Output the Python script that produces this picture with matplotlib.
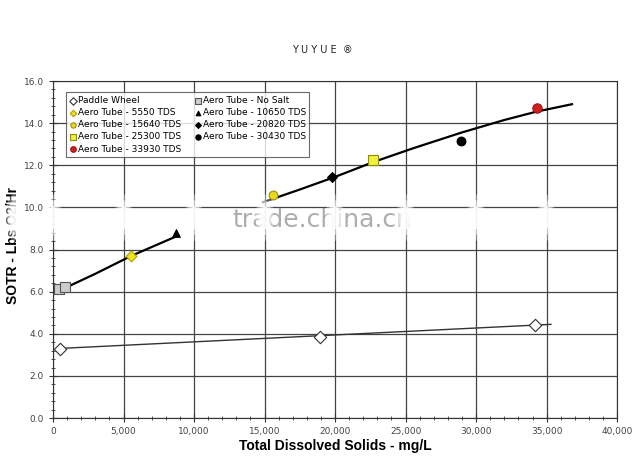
import numpy as np
import matplotlib.pyplot as plt
from matplotlib.ticker import MultipleLocator, FuncFormatter
from matplotlib.patches import Ellipse

paddle_x = [500, 18900, 34200]
paddle_y = [3.28, 3.87, 4.40]
nosalt_x = [450, 850]
nosalt_y = [6.15, 6.2]

aero_labels = ["Aero Tube - 5550 TDS", "Aero Tube - 10650 TDS", "Aero Tube - 15640 TDS",
               "Aero Tube - 20820 TDS", "Aero Tube - 25300 TDS", "Aero Tube - 30430 TDS",
               "Aero Tube - 33930 TDS"]
aero_x = [5530, 8700, 15600, 19800, 22700, 28950, 34300]
aero_y = [7.7, 8.8, 10.6, 11.45, 12.25, 13.15, 14.7]

# linhas de tendencia
paddle_fit_x = [300, 35300]
paddle_fit_y = [3.3, 4.45]
fit1_x = [450, 3000, 5550, 8650]
fit1_y = [6.05, 6.85, 7.7, 8.6]
fit2_x = [14900, 17500, 20000, 22700, 25500, 28950, 32000, 34300, 36800]
fit2_y = [10.25, 10.85, 11.45, 12.15, 12.8, 13.55, 14.15, 14.55, 14.9]

fig = plt.figure(figsize=(6.44, 4.63), dpi=100)
ax = fig.add_axes([0.0823, 0.097, 0.876, 0.728])

ax.plot(paddle_fit_x, paddle_fit_y, color="#333333", lw=1, zorder=2)
ax.plot(fit1_x, fit1_y, color="black", lw=1.6, zorder=2)
ax.plot(fit2_x, fit2_y, color="black", lw=1.6, zorder=2)

h = []
h.append(ax.scatter(paddle_x, paddle_y, marker="D", s=40, facecolor="white",
                    edgecolor="#333333", lw=0.8, zorder=3, label="Paddle Wheel"))
styles = [("D", "#f0e020", "#b0a000", 30),
          ("^", "black", "black", 30),
          ("o", "#e8d820", "#a09010", 40),
          ("D", "black", "black", 25),
          ("s", "#f0f040", "#909000", 55),
          ("o", "black", "black", 40),
          ("o", "#d02020", "#a01010", 45)]
aero_h = []
for (m, fc, ec, s), x, y, lab in zip(styles, aero_x, aero_y, aero_labels):
    aero_h.append(ax.scatter([x], [y], marker=m, s=s, facecolor=fc, edgecolor=ec,
                             lw=0.8, zorder=3, label=lab))
ns = ax.scatter(nosalt_x, nosalt_y, marker="s", s=50, facecolor="#cccccc",
                edgecolor="#555555", lw=0.8, zorder=3, label="Aero Tube - No Salt")

handles = [h[0], aero_h[0], aero_h[2], aero_h[4], aero_h[6], ns, aero_h[1], aero_h[3], aero_h[5]]
leg = ax.legend(handles=handles, ncol=2, loc="upper left", bbox_to_anchor=(0.015, 0.98),
                fontsize=6.5, frameon=True, fancybox=False, edgecolor="#444444",
                handletextpad=0.1, columnspacing=1.5, labelspacing=0.35, markerscale=0.6,
                borderpad=0.4, handlelength=0.8)
leg.get_frame().set_linewidth(0.8)

ax.set_xlim(0, 40000)
ax.set_ylim(0, 16)
ax.xaxis.set_major_locator(MultipleLocator(5000))
ax.xaxis.set_minor_locator(MultipleLocator(1000))
ax.yaxis.set_major_locator(MultipleLocator(2))
ax.yaxis.set_minor_locator(MultipleLocator(0.4))
ax.xaxis.set_major_formatter(FuncFormatter(lambda v, p: f"{int(v):,}"))
ax.yaxis.set_major_formatter(FuncFormatter(lambda v, p: f"{v:.1f}"))
ax.tick_params(which="both", direction="inout", colors="#333333", labelsize=6.5,
               labelcolor="#444444")
ax.tick_params(which="major", length=6)
ax.tick_params(which="minor", length=3)
ax.grid(True, which="major", color="#444444", lw=0.9)
for s in ax.spines.values():
    s.set_color("#333333")

ax.set_xlabel("Total Dissolved Solids - mg/L", fontsize=10, fontweight="bold",
              family="Liberation Sans", labelpad=2)
ax.set_ylabel("SOTR - Lbs O2/Hr", fontsize=10, fontweight="bold",
              family="Liberation Sans")
ax.yaxis.set_label_coords(-0.058, 0.513)

fig.text(0.5, 0.885, "Y U Y U E  ®", ha="center", fontsize=7, color="#222222")

# marca d'agua
fig.text(0.5, 0.525, "trade.china.cn", ha="center", va="center", fontsize=18,
         color="#999999", alpha=0.8)
for xp in [0.022, 0.082, 0.192, 0.301, 0.411, 0.52, 0.63, 0.739, 0.848]:
    for k, a in zip([1.0, 0.75, 0.5], [0.35, 0.5, 0.8]):
        fig.patches.append(Ellipse((xp, 0.53), 0.028 * k, 0.1 * k,
                                   transform=fig.transFigure, facecolor="white",
                                   edgecolor="none", alpha=a, zorder=5))

fig.savefig("out.png", dpi=100)
